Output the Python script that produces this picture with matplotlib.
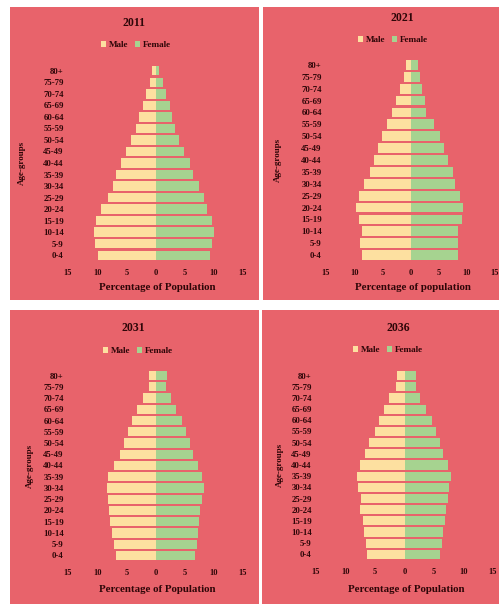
import matplotlib
matplotlib.use("Agg")
import matplotlib.pyplot as plt
from matplotlib.patches import Rectangle
import numpy as np

W, H = 499, 604

age_groups = ["0-4", "5-9", "10-14", "15-19", "20-24", "25-29", "30-34", "35-39",
              "40-44", "45-49", "50-54", "55-59", "60-64", "65-69", "70-74", "75-79", "80+"]

years = ["2011", "2021", "2031", "2036"]

male_2011 = [9.9, 10.3, 10.6, 10.2, 9.3, 8.2, 7.3, 6.8, 5.9, 5.0, 4.2, 3.3, 2.8, 2.2, 1.7, 0.9, 0.6]
female_2011 = [9.4, 9.7, 10.0, 9.6, 8.9, 8.3, 7.5, 6.5, 5.9, 4.8, 4.0, 3.3, 2.9, 2.4, 1.8, 1.2, 0.6]

male_2021 = [8.6, 8.9, 8.6, 9.2, 9.6, 9.1, 8.2, 7.2, 6.4, 5.8, 5.0, 4.1, 3.2, 2.5, 1.8, 1.2, 0.8]
female_2021 = [8.4, 8.5, 8.5, 9.1, 9.3, 8.7, 7.9, 7.5, 6.6, 6.0, 5.3, 4.1, 2.8, 2.6, 2.1, 1.6, 1.3]

male_2031 = [6.8, 7.2, 7.4, 7.8, 7.9, 8.1, 8.4, 8.1, 7.1, 6.1, 5.4, 4.8, 4.0, 3.1, 2.1, 1.2, 1.2]
female_2031 = [6.8, 7.1, 7.2, 7.5, 7.7, 7.9, 8.3, 7.9, 7.3, 6.5, 5.9, 5.3, 4.5, 3.5, 2.7, 1.8, 2.0]

male_2036 = [6.3, 6.6, 6.9, 7.1, 7.6, 7.4, 7.8, 8.1, 7.6, 6.7, 6.0, 5.0, 4.3, 3.4, 2.7, 1.5, 1.3]
female_2036 = [6.0, 6.3, 6.6, 6.9, 7.1, 7.3, 7.6, 7.8, 7.3, 6.6, 6.0, 5.3, 4.6, 3.6, 2.7, 1.9, 1.9]

xlabels = ["Percentage of Population", "Percentage of population",
           "Percentage of Population", "Percentage of Population"]

males = [male_2011, male_2021, male_2031, male_2036]
females = [female_2011, female_2021, female_2031, female_2036]

bg = "#e8636b"
male_col = "#fde0a0"
female_col = "#a6d390"
txt = "#2e0608"
font = "Liberation Serif"

# pixel layout: panel rect (x0, y0, x1, y1), axes rect, title y, legend (x, y), ylabel x
panels = [(10, 7, 259, 300), (263, 7, 499, 300), (10, 310, 259, 604), (262, 310, 499, 604)]
axes_px = [(68, 65, 243, 261), (326, 59, 495, 261), (68, 370, 243, 561), (316, 370, 493, 560)]
title_y = [23, 18, 328, 328]
title_x = [134, 402, 133, 398]
legend_xy = [(136, 45), (393, 40), (138, 351), (388, 350)]
ylabel_x = [22, 278, 30, 280]
xlabel_y = [288, 288, 589, 590]


def fx(x):
    return x / W


def fy(y):
    return 1 - y / H


fig = plt.figure(figsize=(W / 100, H / 100), dpi=100, facecolor="white")

for i in range(4):
    x0, y0, x1, y1 = panels[i]
    fig.patches.append(Rectangle((fx(x0), fy(y1)), fx(x1 - x0), (y1 - y0) / H,
                                 transform=fig.transFigure, facecolor=bg, edgecolor="none", zorder=-5))

    ax0, ay0, ax1, ay1 = axes_px[i]
    ax = fig.add_axes([fx(ax0), fy(ay1), fx(ax1 - ax0), (ay1 - ay0) / H])
    ax.set_facecolor("none")
    pos = np.arange(len(age_groups))
    hm = ax.barh(pos, -np.array(males[i]), height=0.82, color=male_col, label="Male")
    hf = ax.barh(pos, females[i], height=0.82, color=female_col, label="Female")
    ax.set_xlim(-15, 15)
    ax.set_ylim(-0.5, len(age_groups) - 0.5)
    ax.set_xticks([-15, -10, -5, 0, 5, 10, 15])
    ax.set_xticklabels(["15", "10", "5", "0", "5", "10", "15"])
    ax.set_yticks(pos)
    ax.set_yticklabels(age_groups)
    for s in ax.spines.values():
        s.set_visible(False)
    ax.tick_params(length=0, colors=txt, pad=3)
    ax.tick_params(axis="y", labelsize=6.3)
    ax.tick_params(axis="x", labelsize=6, pad=6)
    for lab in ax.get_xticklabels() + ax.get_yticklabels():
        lab.set_fontfamily(font)
        lab.set_fontweight("bold")

    fig.text(fx(title_x[i]), fy(title_y[i]), years[i], ha="center", va="center",
             fontsize=8.5, fontweight="bold", family=font, color=txt)
    fig.text(fx((ax0 + ax1) / 2 + 2), fy(xlabel_y[i]), xlabels[i], ha="center", va="center",
             fontsize=7.8, fontweight="bold", family=font, color=txt)
    fig.text(fx(ylabel_x[i]), fy((ay0 + ay1) / 2), "Age-groups", ha="center", va="center",
             rotation=90, fontsize=6.5, fontweight="bold", family=font, color=txt)
    lx, ly = legend_xy[i]
    fig.legend(handles=[hm, hf], loc="center", bbox_to_anchor=(fx(lx), fy(ly)), ncol=2,
               frameon=False, handlelength=0.6, handleheight=0.6, columnspacing=0.7,
               handletextpad=0.3, borderpad=0,
               prop={"family": font, "weight": "bold", "size": 6.6}, labelcolor=txt)

fig.savefig("out.png", dpi=100, facecolor="white")
